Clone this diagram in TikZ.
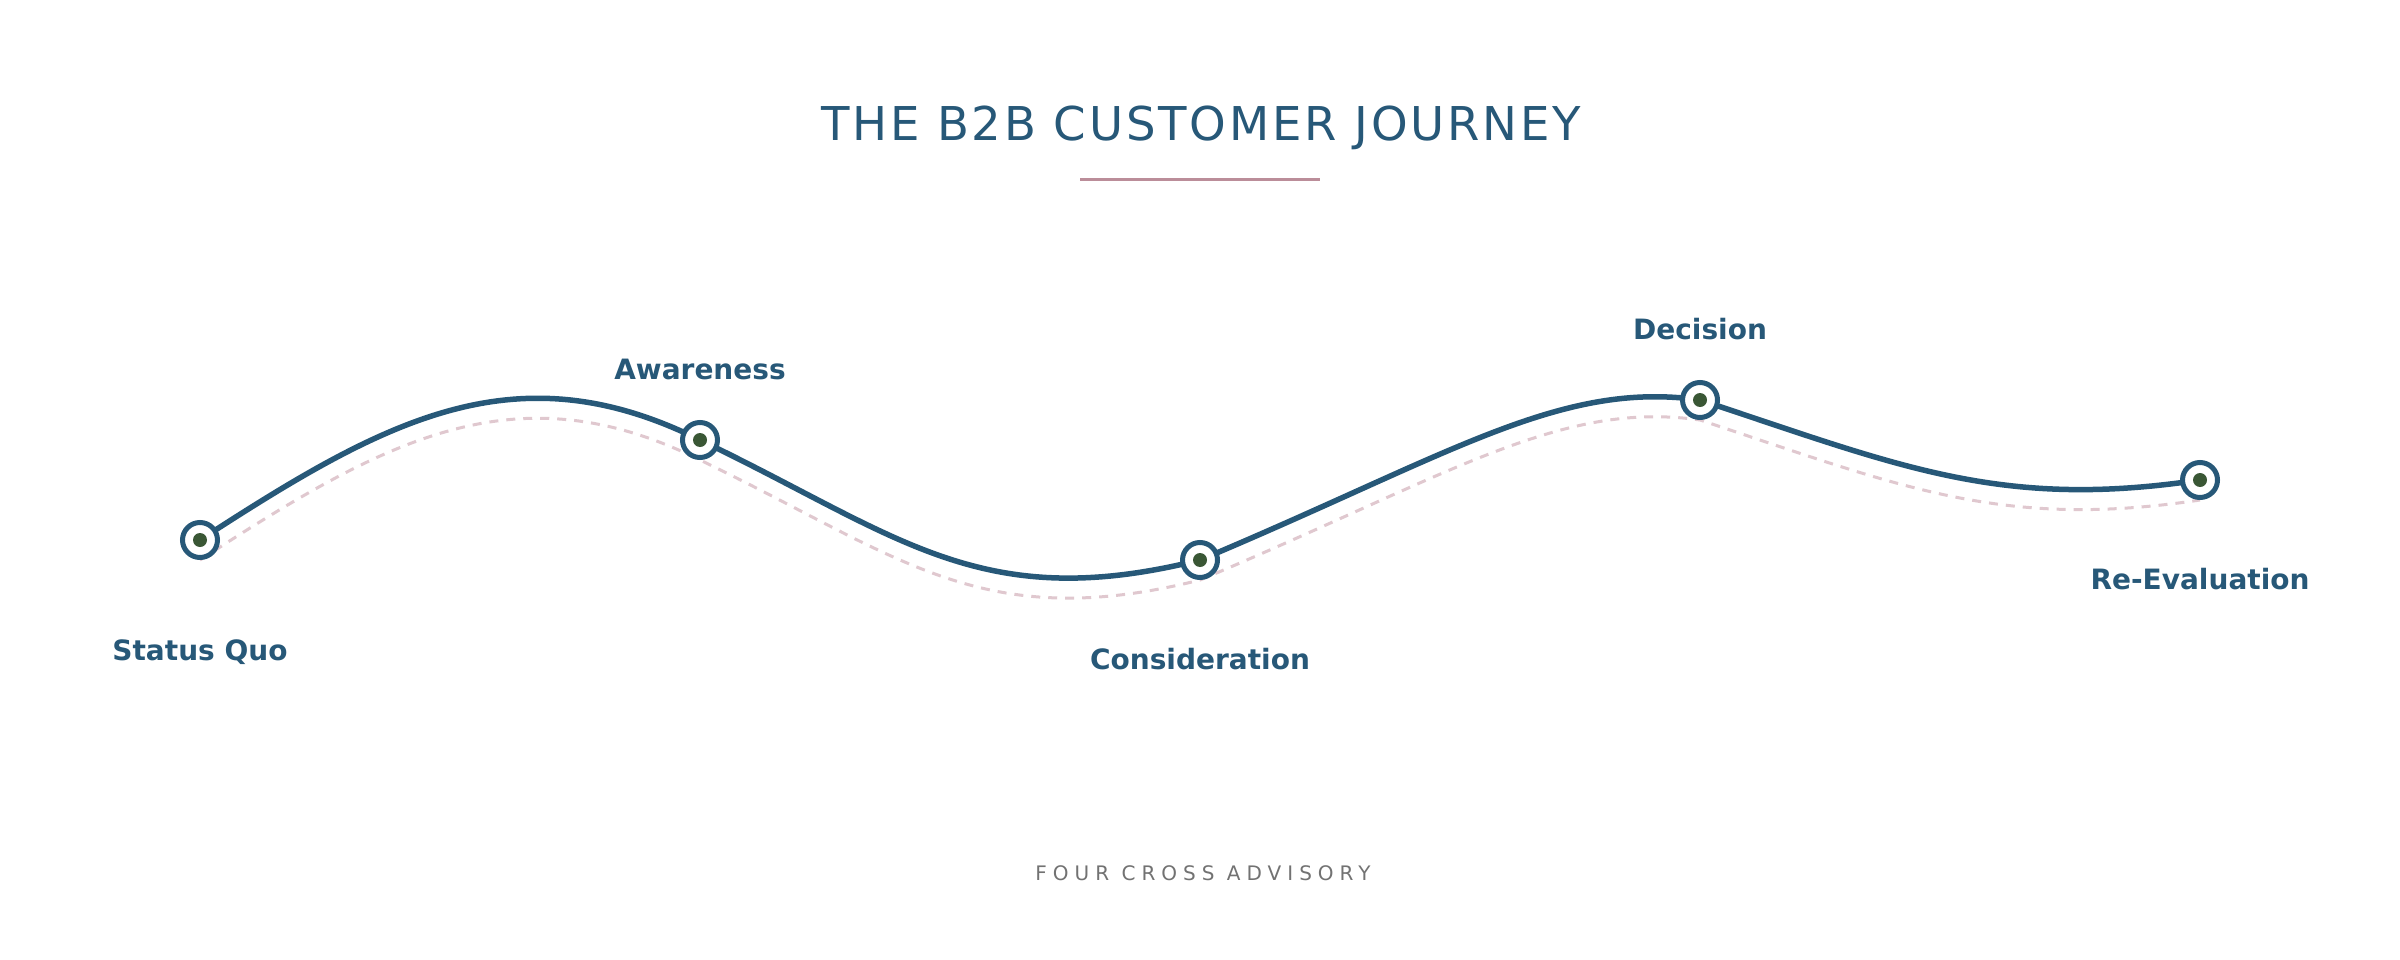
\documentclass[tikz,border=0pt]{standalone}
\usepackage{fontspec}
\setmainfont{DejaVu Sans}
\newfontfamily\titlefont{DejaVu Sans}[LetterSpace=6]
\newfontfamily\footfont{DejaVu Sans}[LetterSpace=30]
\definecolor{jblue}{HTML}{275878}
\definecolor{jgreen}{HTML}{3A5735}
\definecolor{jpink}{HTML}{E0C8CF}
\definecolor{jrule}{HTML}{BB8D99}
\definecolor{jgray}{HTML}{727272}
\tikzset{
  journey/.style={draw=jblue, line width=5.5pt, line cap=round},
  shadow path/.style={draw=jpink, line width=3pt, dash pattern=on 9pt off 8pt},
  stage/.style={circle, draw=jblue, line width=5pt, fill=white, minimum size=35pt, inner sep=0pt,
    path picture={\fill[jgreen] (path picture bounding box.center) circle (7pt);}},
  stagelabel/.style={anchor=base, text=jblue, font=\fontsize{28}{32}\selectfont\bfseries, inner sep=0pt},
}
\begin{document}
\begin{tikzpicture}[x=1pt, y=-1pt]
\useasboundingbox (0,0) rectangle (2400,960);
\fill[white] (0,0) rectangle (2400,960);
% title
\node[anchor=base, text=jblue, inner sep=0pt, font=\titlefont\fontsize{46.6}{50}\selectfont] (title) at (1201,140.7) {THE B2B CUSTOMER JOURNEY};
\coordinate (ruleL) at (1080,179.5);
\coordinate (ruleR) at (1320,179.5);
\draw[jrule, line width=3pt] (ruleL) -- (ruleR);
% stage positions
\coordinate (p1) at (200,540);
\coordinate (p2) at (700,440);
\coordinate (p3) at (1200,560);
\coordinate (p4) at (1700,400);
\coordinate (p5) at (2200,480);
\coordinate (q1) at (200,560);
\coordinate (q2) at (700,460);
\coordinate (q3) at (1200,580);
\coordinate (q4) at (1700,420);
\coordinate (q5) at (2200,500);
% dashed shadow path
\draw[shadow path] (q1) .. controls (385,440) and (515,368) .. (q2)
  .. controls (900,556) and (980,635) .. (q3)
  .. controls (1450,475) and (1560,400) .. (q4)
  .. controls (1900,486) and (2000,530) .. (q5);
% main path
\draw[journey] (p1) .. controls (385,420) and (515,348) .. (p2);
\draw[journey] (p2) .. controls (900,536) and (980,615) .. (p3);
\draw[journey] (p3) .. controls (1450,455) and (1560,380) .. (p4);
\draw[journey] (p4) .. controls (1900,466) and (2000,510) .. (p5);
% stage markers
\node[stage] (n1) at (p1) {};
\node[stage] (n2) at (p2) {};
\node[stage] (n3) at (p3) {};
\node[stage] (n4) at (p4) {};
\node[stage] (n5) at (p5) {};
% labels
\node[stagelabel] (l1) at (200,660) {Status Quo};
\node[stagelabel] (l2) at (700,379.5) {Awareness};
\node[stagelabel] (l3) at (1200,669.5) {Consideration};
\node[stagelabel] (l4) at (1700,339.5) {Decision};
\node[stagelabel] (l5) at (2200,589.5) {Re-Evaluation};
% footer
\node[anchor=base, text=jgray, inner sep=0pt, font=\footfont\fontsize{20}{24}\selectfont] (foot) at (1203,880) {FOUR CROSS ADVISORY};
\end{tikzpicture}
\end{document}
